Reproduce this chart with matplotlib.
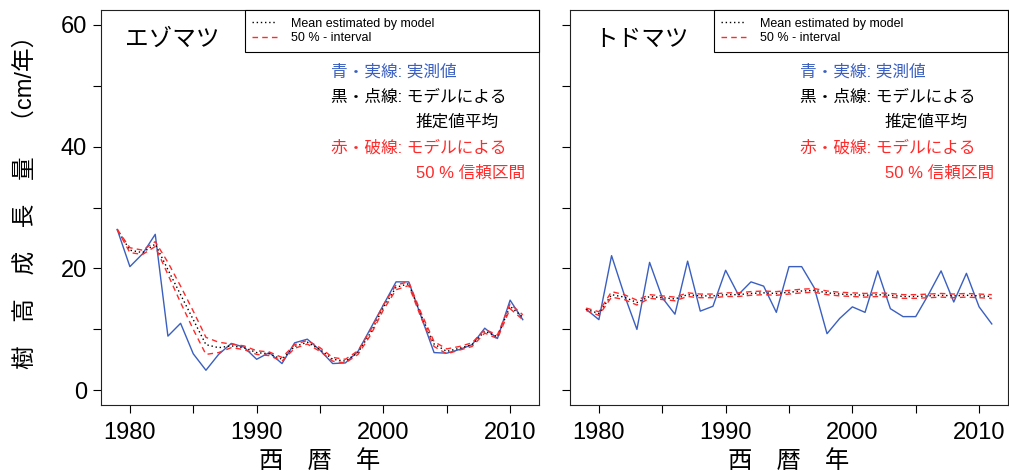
import numpy as np
import matplotlib
matplotlib.use("Agg")
import matplotlib.pyplot as plt
from matplotlib.lines import Line2D

plt.rcParams['font.family'] = ['Liberation Sans', 'Noto Sans CJK JP', 'DejaVu Sans']

years = list(range(1979, 2012))

# エゾマツ
ezo_obs = [26.4, 20.3, 22.4, 25.6, 8.9, 11.0, 6.0, 3.3, 5.9, 7.7, 7.1, 5.1, 6.2, 4.4, 7.8, 8.4, 6.6,
           4.4, 4.5, 6.4, 10.2, 14.0, 17.8, 17.8, 12.0, 6.2, 6.1, 6.7, 7.5, 10.2, 8.5, 14.8, 11.6]
ezo_mean = [26.4, 23.0, 22.6, 24.0, 19.8, 15.7, 11.6, 7.5, 7.0, 7.3, 7.0, 6.2, 6.0, 5.1, 7.2, 7.9, 6.7,
            5.1, 4.8, 6.2, 9.5, 13.6, 16.9, 17.5, 12.2, 7.6, 6.4, 6.9, 7.5, 9.7, 8.8, 13.8, 12.0]
ezo_hi = [26.4, 23.4, 23.0, 24.4, 21.0, 17.1, 13.0, 8.7, 7.9, 7.6, 7.3, 6.5, 6.3, 5.4, 7.5, 8.2, 7.0,
          5.4, 5.1, 6.5, 9.9, 14.0, 17.3, 17.8, 12.6, 8.0, 6.8, 7.2, 7.8, 10.0, 9.1, 14.2, 12.4]
ezo_lo = [26.4, 22.6, 22.3, 23.6, 19.0, 14.4, 10.0, 5.9, 6.2, 7.0, 6.7, 5.9, 5.7, 4.8, 6.9, 7.6, 6.4,
          4.8, 4.5, 5.9, 9.1, 13.2, 16.5, 17.2, 11.8, 7.2, 6.0, 6.6, 7.2, 9.4, 8.5, 13.4, 11.6]

# トドマツ
todo_obs = [13.3, 11.6, 22.1, 15.7, 10.0, 21.0, 15.2, 12.5, 21.2, 13.0, 13.8, 19.7, 15.7, 17.8, 17.1, 12.8, 20.3,
            20.3, 16.8, 9.3, 11.8, 13.7, 12.8, 19.6, 13.4, 12.1, 12.1, 15.7, 19.6, 14.5, 19.2, 13.7, 10.9]
todo_mean = [13.3, 12.6, 15.7, 15.3, 14.4, 15.4, 15.2, 15.0, 15.7, 15.5, 15.5, 15.7, 15.7, 15.9, 16.0, 15.9, 16.1,
             16.3, 16.4, 16.0, 15.8, 15.7, 15.6, 15.7, 15.6, 15.4, 15.4, 15.5, 15.6, 15.5, 15.6, 15.5, 15.4]
todo_hi = [13.5, 12.9, 16.2, 15.7, 14.8, 15.7, 15.5, 15.3, 16.0, 15.8, 15.8, 16.0, 16.0, 16.2, 16.3, 16.2, 16.4,
           16.6, 16.7, 16.3, 16.1, 16.0, 15.9, 16.0, 15.9, 15.7, 15.7, 15.8, 15.9, 15.8, 15.9, 15.8, 15.7]
todo_lo = [13.1, 12.3, 15.3, 14.9, 14.0, 15.1, 14.9, 14.7, 15.4, 15.2, 15.2, 15.4, 15.4, 15.6, 15.7, 15.6, 15.8,
           16.0, 16.1, 15.7, 15.5, 15.4, 15.3, 15.4, 15.3, 15.1, 15.1, 15.2, 15.3, 15.2, 15.3, 15.2, 15.1]

species = ["エゾマツ", "トドマツ"]
xticks = [1980, 1990, 2000, 2010]
yticks = [0, 20, 40, 60]

BLUE = "#3a5fc0"
RED = "#ff2a2a"

fig = plt.figure(figsize=(10.09, 4.75), dpi=100)
ax1 = fig.add_axes([101 / 1009, 70 / 475, 438 / 1009, 395 / 475])
ax2 = fig.add_axes([570 / 1009, 70 / 475, 438 / 1009, 395 / 475])

panels = [(ax1, ezo_obs, ezo_mean, ezo_hi, ezo_lo), (ax2, todo_obs, todo_mean, todo_hi, todo_lo)]
for i, (ax, obs, mean, hi, lo) in enumerate(panels):
    ax.plot(years, obs, color=BLUE, lw=1.0)
    ax.plot(years, mean, color="black", lw=1.0, ls=(0, (1, 2)))
    ax.plot(years, hi, color=RED, lw=1.0, ls=(0, (4, 3)))
    ax.plot(years, lo, color=RED, lw=1.0, ls=(0, (4, 3)))

    ax.set_xlim(1977.72, 2012.28)
    ax.set_ylim(-2.4, 62.4)
    ax.set_xticks(xticks)
    ax.set_xticks([1985, 1995, 2005], minor=True)
    ax.set_yticks(yticks)
    ax.set_yticks([10, 30, 50], minor=True)
    ax.tick_params(which="both", direction="out", length=6, width=0.8, labelsize=17)
    ax.tick_params(axis="x", pad=6)
    ax.tick_params(axis="y", pad=4)
    if i == 1:
        ax.set_yticklabels([])
    for s in ax.spines.values():
        s.set_linewidth(0.8)
        s.set_color("#222222")

    ax.text(0.055, 0.925, species[i], transform=ax.transAxes, fontsize=17,
            va="center", ha="left")

    handles = [Line2D([], [], color="black", lw=1.0, ls=(0, (1, 2))),
               Line2D([], [], color=RED, lw=1.0, ls=(0, (4, 3)))]
    leg = ax.legend(handles, ["Mean estimated by model", "50 % - interval"],
                    loc="upper right", bbox_to_anchor=(0.328, 0.0, 0.672, 1.0),
                    mode="expand", fontsize=9, frameon=True, fancybox=False,
                    framealpha=1, edgecolor="black", borderaxespad=0,
                    handlelength=2.0, handletextpad=1.1, labelspacing=0.2,
                    borderpad=0.6)
    leg.get_frame().set_linewidth(0.8)

    ax.text(0.525, 0.843, "青・実線: 実測値", transform=ax.transAxes, color=BLUE,
            fontsize=12, va="center", ha="left")
    ax.text(0.525, 0.780, "黒・点線: モデルによる", transform=ax.transAxes, color="black",
            fontsize=12, va="center", ha="left")
    ax.text(0.719, 0.716, "推定値平均", transform=ax.transAxes, color="black",
            fontsize=12, va="center", ha="left")
    ax.text(0.525, 0.651, "赤・破線: モデルによる", transform=ax.transAxes, color=RED,
            fontsize=12, va="center", ha="left")
    ax.text(0.719, 0.587, "50 % 信頼区間", transform=ax.transAxes, color=RED,
            fontsize=12, va="center", ha="left")

    cx = (ax.get_position().x0 + ax.get_position().x1) / 2
    fig.text(cx, 1 - 462 / 475, "西　暦　年", fontsize=17.5, ha="center", va="center")

fig.text(25 / 1009, 1 - 196 / 475, "樹　高　成　長　量　（cm/年）", fontsize=17,
         rotation=90, ha="center", va="center")

fig.savefig("out.png", dpi=100)
